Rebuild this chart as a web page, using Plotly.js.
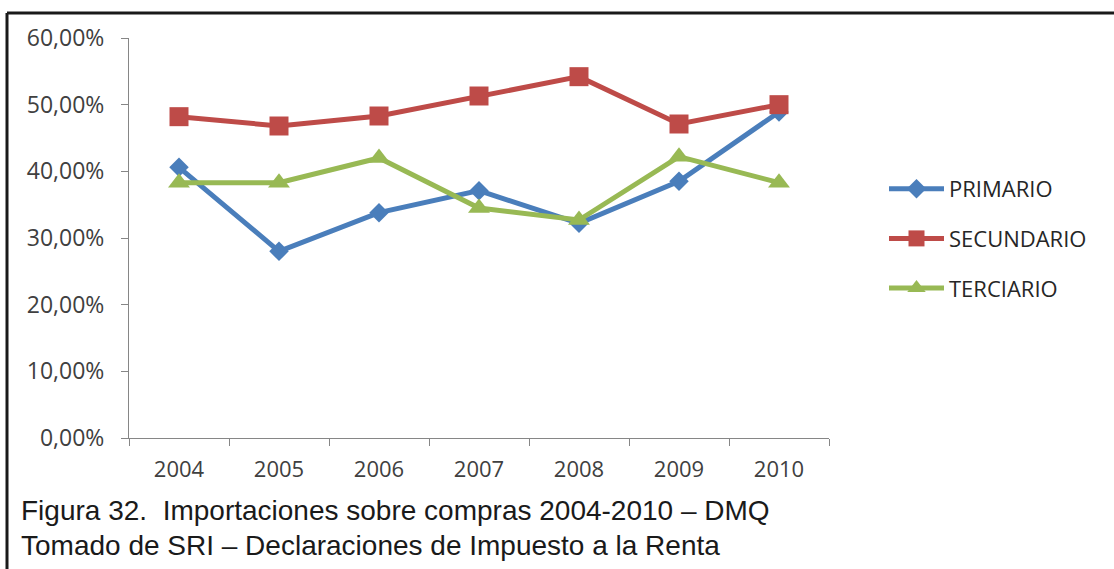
<!DOCTYPE html>
<html>
<head>
<meta charset="utf-8">
<script src="https://cdn.plot.ly/plotly-3.0.1.min.js"></script>
<style>
  html, body { margin: 0; padding: 0; background: #ffffff; }
  #chart { width: 1114px; height: 569px; }
</style>
</head>
<body>
<div id="chart"></div>
<script>
// ---- Data ----
const years = ['2004', '2005', '2006', '2007', '2008', '2009', '2010'];
const primario   = [0.406, 0.280, 0.338, 0.371, 0.322, 0.385, 0.489];
const secundario = [0.482, 0.468, 0.483, 0.513, 0.542, 0.471, 0.500];
const terciario  = [0.383, 0.383, 0.420, 0.345, 0.327, 0.422, 0.383];
const seriesNames = ['PRIMARIO', 'SECUNDARIO', 'TERCIARIO'];
const captionLines = [
  'Figura 32.  Importaciones sobre compras 2004-2010 – DMQ',
  'Tomado de SRI – Declaraciones de Impuesto a la Renta'
];

// ---- Geometry (pixels) ----
const W = 1114, H = 569;
const L = 129, R = 829, T = 38, B = 438;
const pw = R - L, ph = B - T;
const px = x => (x - L) / pw;
const py = y => (B - y) / ph;

const colors = ['#4A7EBB', '#BE4B48', '#98B954'];
const symbols = ['diamond', 'square', 'triangle-up'];
const sizes = [15, 19, 19];
const vals = [primario, secundario, terciario];

const traces = vals.map((v, i) => ({
  type: 'scatter',
  mode: 'lines+markers',
  x: years,
  y: v,
  name: seriesNames[i],
  legendgroup: 'g' + i,
  line: { color: colors[i], width: 5 },
  marker: { symbol: symbols[i], size: sizes[i], color: colors[i] },
  hoverinfo: 'skip'
}));

const layout = {
  width: W, height: H,
  margin: { l: L, r: W - R, t: T, b: H - B, pad: 0 },
  paper_bgcolor: '#ffffff',
  plot_bgcolor: '#ffffff',
  separators: ',.',
  font: { family: 'Open Sans, sans-serif', color: '#404040' },
  showlegend: true,
  legend: {
    x: px(884), y: py(168), xanchor: 'left', yanchor: 'top',
    font: { size: 22, color: '#262626', family: 'Open Sans, sans-serif' },
    bgcolor: 'rgba(0,0,0,0)',
    itemwidth: 55,
    tracegroupgap: 18
  },
  xaxis: {
    type: 'category',
    range: [-0.5, 6.5],
    showgrid: false, zeroline: false,
    showline: true, linecolor: '#868686', linewidth: 1,
    ticks: 'outside', tickson: 'boundaries', ticklen: 7, tickcolor: '#868686',
    tickfont: { size: 22, color: '#404040' },
    ticklabelstandoff: 12,
    fixedrange: true
  },
  yaxis: {
    range: [0, 0.6], dtick: 0.1, tick0: 0,
    tickformat: '.2%',
    showgrid: false, zeroline: false,
    showline: true, linecolor: '#868686', linewidth: 1,
    ticks: 'outside', ticklen: 7, tickcolor: '#868686',
    tickfont: { size: 23, color: '#404040' },
    ticklabelstandoff: 12,
    fixedrange: true
  },
  shapes: [
    { type: 'line', xref: 'paper', yref: 'paper', x0: px(7), x1: px(1120), y0: py(13), y1: py(13),
      line: { color: '#1a1a1a', width: 3 } },
    { type: 'line', xref: 'paper', yref: 'paper', x0: px(7), x1: px(7), y0: py(13), y1: py(575),
      line: { color: '#1a1a1a', width: 3 } }
  ],
  annotations: captionLines.map((t, i) => ({
    text: t, xref: 'paper', yref: 'paper',
    x: px(19), y: py(510 + i * 35), xanchor: 'left', yanchor: 'middle',
    showarrow: false,
    font: { family: 'Liberation Sans, Arial, sans-serif', size: 28, color: '#1a1a1a' }
  }))
};

Plotly.newPlot('chart', traces, layout, { displayModeBar: false, staticPlot: true });
</script>
</body>
</html>
